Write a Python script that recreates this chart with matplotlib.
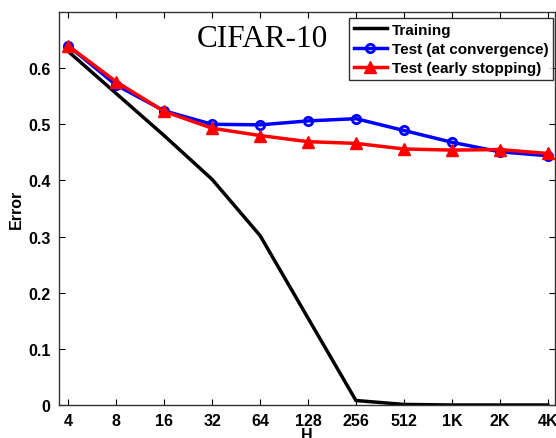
import matplotlib
matplotlib.use('Agg')
import matplotlib.pyplot as plt

h_labels = ['4', '8', '16', '32', '64', '128', '256', '512', '1K', '2K', '4K']
training = [0.630, 0.555, 0.480, 0.402, 0.302, 0.155, 0.008, 0.001, 0.0, 0.0, 0.0]
test_conv = [0.640, 0.570, 0.524, 0.500, 0.499, 0.506, 0.510, 0.489, 0.468, 0.451, 0.444]
test_early = [0.640, 0.576, 0.523, 0.493, 0.480, 0.469, 0.466, 0.456, 0.454, 0.455, 0.448]

plt.rcParams['font.family'] = ['Liberation Sans', 'DejaVu Sans']
plt.rcParams['font.weight'] = 'bold'

fig = plt.figure(figsize=(5.56, 4.39), dpi=100)
ax = fig.add_axes([59 / 556, 1 - 406 / 439, (555 - 59) / 556, (406 - 13) / 439])

x = list(range(len(h_labels)))
ax.plot(x, training, color='black', lw=2.5, label='Training')
ax.plot(x, test_conv, color='blue', lw=2.5, marker='o', ms=6, mfc='none', mew=2, label='Test (at convergence)')
ax.plot(x, test_early, color='red', lw=2.5, marker='^', ms=8, label='Test (early stopping)')

ax.set_xlim(-0.19, 10.15)
ax.set_ylim(0, 0.7)
ax.set_xticks(x)
ax.set_xticklabels(h_labels)
ax.set_yticks([0, 0.1, 0.2, 0.3, 0.4, 0.5, 0.6])
ax.set_yticklabels(['0', '0.1', '0.2', '0.3', '0.4', '0.5', '0.6'])
ax.tick_params(direction='in', top=True, right=True, labelsize=11.5, length=4, pad=6)
for lab in ax.get_xticklabels() + ax.get_yticklabels():
    lab.set_fontweight('bold')
for s in ax.spines.values():
    s.set_linewidth(1.0)
    s.set_color('#333333')

ax.set_xlabel('H', fontsize=11.5, fontweight='bold', labelpad=-1)
ax.set_ylabel('Error', fontsize=11.5, fontweight='bold', labelpad=3)

ax.text(4.05, 0.64, 'CIFAR-10', family='Liberation Serif', fontweight='normal', fontsize=22.5, ha='center', va='baseline')

leg = ax.legend(loc='upper right', bbox_to_anchor=(1.0 - 2 / 496, 1 - 6 / 393), fontsize=11, frameon=True, fancybox=False,
                edgecolor='black', borderpad=0.3, labelspacing=0.35, handlelength=2.2, handletextpad=0.3, borderaxespad=0)
leg.get_frame().set_linewidth(1.0)
for t in leg.get_texts():
    t.set_fontweight('bold')

fig.savefig('out.png', dpi=100)
